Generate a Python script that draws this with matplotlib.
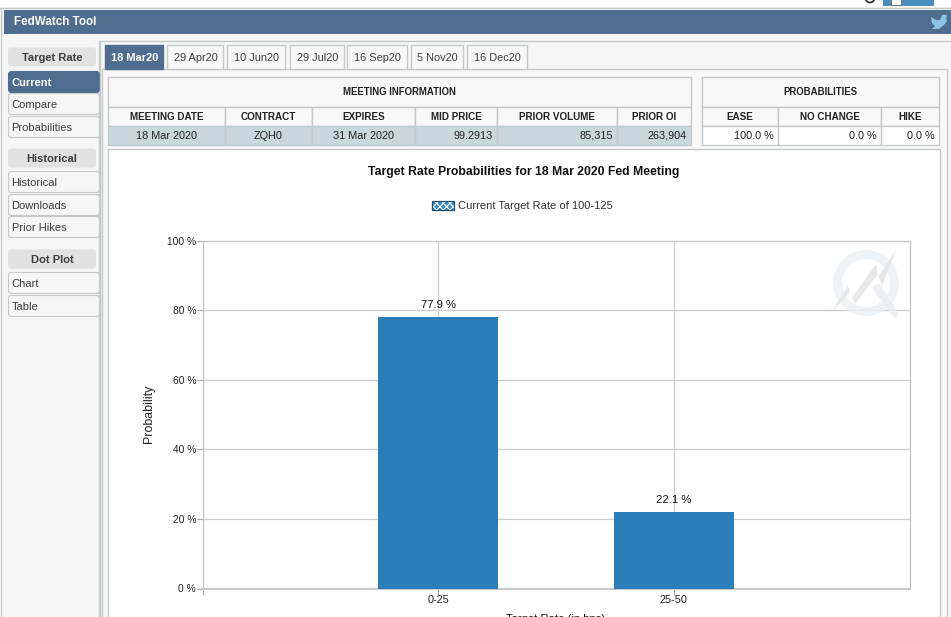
import matplotlib
matplotlib.use('Agg')
import matplotlib.pyplot as plt
from matplotlib.patches import Rectangle, FancyBboxPatch, Polygon, Circle

W, H = 951, 617

plt.rcParams['font.family'] = ['Liberation Sans', 'DejaVu Sans']
plt.rcParams['hatch.linewidth'] = 0.8

categories = ['0-25', '25-50']
probabilities = [77.9, 22.1]
y_ticks = [0, 20, 40, 60, 80, 100]

tab_labels = ['18 Mar20', '29 Apr20', '10 Jun20', '29 Jul20', '16 Sep20', '5 Nov20', '16 Dec20']
tab_edges = [(105, 163), (167, 223), (227, 285), (290, 344), (347, 407), (411, 463), (467, 527)]

meeting_cols = ['MEETING DATE', 'CONTRACT', 'EXPIRES', 'MID PRICE', 'PRIOR VOLUME', 'PRIOR OI']
meeting_vals = ['18 Mar 2020', 'ZQH0', '31 Mar 2020', '99.2913', '85,315', '263,904']
meeting_edges = [108, 225, 312, 415, 497, 617, 691]

prob_cols = ['EASE', 'NO CHANGE', 'HIKE']
prob_vals = ['100.0 %', '0.0 %', '0.0 %']
prob_edges = [702, 778, 881, 939]

side_menu = [
    ('Target Rate', 57, ['Current', 'Compare', 'Probabilities'], [82, 104, 127]),
    ('Historical', 158, ['Historical', 'Downloads', 'Prior Hikes'], [182, 205, 227]),
    ('Dot Plot', 259, ['Chart', 'Table'], [283, 306]),
]

DARK = '#4f6d8e'
LINE = '#c6c9cb'
TXT = '#3c3c3c'
BAR = '#2a7fba'

fig = plt.figure(figsize=(W / 100, H / 100), dpi=100, facecolor='white')

# page chrome, in pixel coordinates
bg = fig.add_axes([0, 0, 1, 1], zorder=0)
bg.set_xlim(0, W)
bg.set_ylim(H, 0)
bg.axis('off')


def box(x0, y0, x1, y1, fc='white', ec=LINE, lw=1.0, z=1):
    bg.add_patch(Rectangle((x0, y0), x1 - x0, y1 - y0, fc=fc, ec=ec, lw=lw, zorder=z))


def rounded(x0, y0, x1, y1, fc, ec='none', z=2):
    bg.add_patch(FancyBboxPatch((x0 + 3, y0 + 3), x1 - x0 - 6, y1 - y0 - 6,
                                boxstyle='round,pad=3', fc=fc, ec=ec, lw=0.8, zorder=z))


def label(x, y, s, **kw):
    kw.setdefault('va', 'center_baseline')
    kw.setdefault('zorder', 3)
    bg.text(x, y, s, **kw)


bg.plot([0, W], [7.5, 7.5], color=LINE, lw=1, zorder=1)
box(1, 8, W + 2, H + 2, fc='#f6f6f6', ec=LINE)
box(4, 10, W + 2, 34, fc=DARK, ec='none', z=2)
label(14, 20.5, 'FedWatch Tool', color='white', fontsize=8.4, fontweight='bold')

# top right button and twitter bird
box(883, -2, 934, 6, fc='#4a8ec2', ec='none', z=2)
box(891, -2, 901, 5, fc='white', ec='#555555', lw=0.5, z=3)
bg.add_patch(Circle((870, -2), 4.5, fc='none', ec='#333333', lw=1.3, zorder=3))
bg.add_patch(Polygon([(931, 17), (936, 20), (940, 20), (942, 15), (947, 15), (946, 19),
                      (947, 21), (944, 25), (939, 29), (932, 29), (935, 26), (932, 23)],
                     fc='#8cc4e6', ec='none', zorder=3))

# side menu
box(99, 41, W + 2, H + 2, fc='#f6f6f6', ec=LINE, z=1)
for title, y_title, items, ys in side_menu:
    rounded(8, y_title - 9.5, 96, y_title + 9.5, '#e2e2e2')
    label(52, y_title, title, color=TXT, fontsize=8.0, fontweight='bold', ha='center')
    for item, y in zip(items, ys):
        on = item == 'Current'
        rounded(8.5, y - 10.5, 99.5, y + 10.5, DARK if on else '#f6f6f6', ec=DARK if on else LINE)
        label(11.5, y, item, color='white' if on else TXT, fontsize=8,
              fontweight='bold' if on else 'normal')

# date tabs
box(102, 69, 947, H + 2, fc='#f8f8f8', ec=LINE, z=2)
bg.plot([99.5, 99.5], [41, H], color=LINE, lw=1, zorder=3)
for tab, (x0, x1) in zip(tab_labels, tab_edges):
    on = tab == tab_labels[0]
    box(x0, 45, x1, 69, fc=DARK if on else '#f8f8f8', ec=DARK if on else LINE, z=2)
    label((x0 + x1) / 2 + 0.5, 57, tab, color='white' if on else TXT, fontsize=7.9,
          fontweight='bold' if on else 'normal', ha='center')


def info_table(title, cols, vals, edges, fill, aligns):
    box(edges[0], 76.5, edges[-1], 107, fc='#f8f8f8', z=2)
    label((edges[0] + edges[-1]) / 2, 91, title, color='#222222', fontsize=6.9,
          fontweight='bold', ha='center')
    for i, (col, val) in enumerate(zip(cols, vals)):
        x0, x1 = edges[i], edges[i + 1]
        box(x0, 107, x1, 126, fc='#f8f8f8', z=2)
        box(x0, 126, x1, 144.5, fc=fill, z=2)
        label((x0 + x1) / 2, 116.5, col, color='#222222', fontsize=7.1, fontweight='bold', ha='center')
        if aligns[i] == 'center':
            label((x0 + x1) / 2, 135, val, color='#222222', fontsize=7.8, ha='center')
        else:
            label(x1 - 4, 135, val, color='#222222', fontsize=7.8, ha='right')


info_table('MEETING INFORMATION', meeting_cols, meeting_vals, meeting_edges, '#c9d8dc',
           ['center', 'center', 'center', 'right', 'right', 'right'])
info_table('PROBABILITIES', prob_cols, prob_vals, prob_edges, 'white', ['right', 'right', 'right'])

# white chart panel
box(108, 149, 939.5, H + 3, fc='white', ec=LINE, z=2)

# the chart itself
left, right, top, bottom = 202.5, 909.5, 240.5, 588.5
ax = fig.add_axes([left / W, 1 - bottom / H, (right - left) / W, (bottom - top) / H], zorder=1)
ax.patch.set_alpha(0)
x = range(len(categories))
bars = ax.bar(x, probabilities, width=0.51, color=BAR, zorder=3)
ax.set_xlim(-1, 2)
ax.set_ylim(0, 100)
ax.set_xticks(list(x))
ax.set_xticklabels(categories)
ax.set_yticks(y_ticks)
ax.set_yticklabels([f'{v} %' for v in y_ticks])
ax.grid(True, color='#cccccc', lw=0.9, zorder=1)
ax.set_axisbelow(True)
ax.tick_params(axis='both', colors='#aaaaaa', labelcolor='#222222', labelsize=7.8, length=4, width=0.8)
ax.tick_params(axis='y', labelsize=7.4, pad=0.5)
ax.tick_params(axis='x', pad=1)
for side in ax.spines:
    ax.spines[side].set_color('#c4c4c4')
    ax.spines[side].set_linewidth(0.9)
ax.spines['bottom'].set_linewidth(1.3)
ax.bar_label(bars, labels=[f'{v} %' for v in probabilities], padding=5, fontsize=8.1, color='#111111')

bg.plot([left, left], [bottom, 594], color='#aaaaaa', lw=0.8, zorder=3)
label(523.5, 171, 'Target Rate Probabilities for 18 Mar 2020 Fed Meeting', color='#111111', fontsize=8.8,
      fontweight='bold', ha='center')
bg.add_patch(Rectangle((431.5, 200.5), 22, 9.5, fc='#3a8bc0', ec='white', hatch='xxxxx', lw=0, zorder=3))
bg.add_patch(Rectangle((431.5, 200.5), 22, 9.5, fc='none', ec='#1d4f78', lw=0.9, zorder=4))
label(458, 205, 'Current Target Rate of 100-125', color='#333333', fontsize=8.0)
label(149.5, 414, 'Probability', color='#222222', fontsize=8.9, rotation=90, ha='center', va='center')
label(556, 614.5, 'Target Rate (in bps)', color='#111111', fontsize=8.1, ha='center', va='top')

# faint logo over the plot
top_ax = fig.add_axes([0, 0, 1, 1], zorder=2)
top_ax.set_xlim(0, W)
top_ax.set_ylim(H, 0)
top_ax.axis('off')
top_ax.add_patch(Circle((866, 283), 28.5, fc='none', ec='#edf1f4', lw=6.5, alpha=0.8))
top_ax.add_patch(Polygon([(872, 288), (879, 283), (899, 314), (895, 319)], fc='#e9edf1', ec='none', alpha=0.85))
top_ax.add_patch(Polygon([(830, 314), (848, 286), (852, 298), (876, 264), (878, 277), (896, 250),
                          (882, 286), (878, 274), (855, 304), (850, 292)],
                         fc='#e4e4e4', ec='none', alpha=0.85))

fig.savefig('out.png', dpi=100)
